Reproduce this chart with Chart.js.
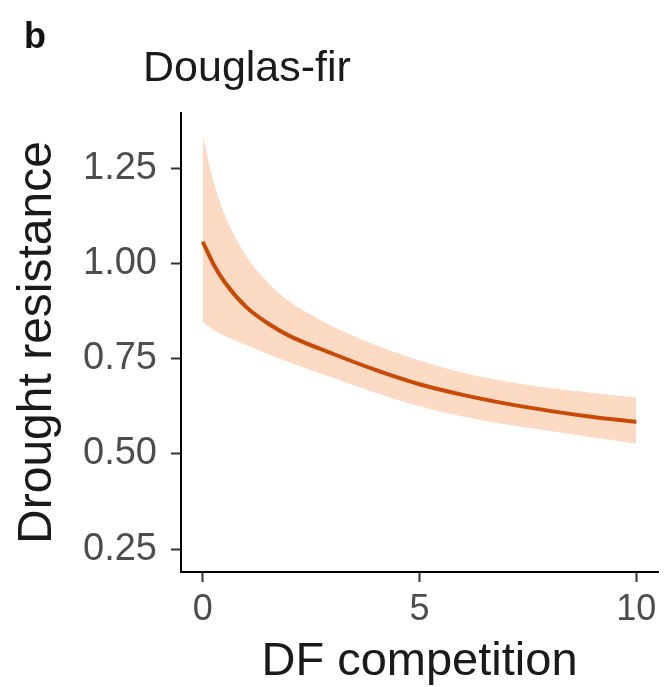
<!DOCTYPE html>
<html>
<head>
<meta charset="utf-8">
<script src="https://cdn.jsdelivr.net/npm/chart.js@4"></script>
<style>
  body { margin: 0; background: #fff; }
</style>
</head>
<body>
<canvas id="chart" width="665" height="687"></canvas>
<script>
// DF competition vs drought resistance (fitted line + confidence band)
const competition = [0, 0.25, 0.5, 1, 1.5, 2, 3, 4, 5, 6, 7, 8, 9, 10];
const fitted = [1.057, 0.998, 0.952, 0.886, 0.843, 0.81, 0.763, 0.72, 0.683, 0.655, 0.632, 0.613, 0.597, 0.584];
const upperBand = [1.336, 1.215, 1.13, 1.02, 0.95, 0.9, 0.835, 0.785, 0.745, 0.713, 0.69, 0.673, 0.66, 0.648];
const lowerBand = [0.845, 0.826, 0.81, 0.786, 0.762, 0.74, 0.7, 0.66, 0.625, 0.598, 0.577, 0.56, 0.543, 0.527];

const xTicks = [0, 5, 10];
const yTicks = [0.25, 0.5, 0.75, 1.0, 1.25];

const FONT = "'Liberation Sans', Arial, Helvetica, sans-serif";

const toPoints = (ys) => competition.map((x, i) => ({ x: x, y: ys[i] }));

// panel letter and title
const headerPlugin = {
  id: 'header',
  afterDraw(chart) {
    const ctx = chart.ctx;
    ctx.save();
    ctx.fillStyle = '#111';
    ctx.textBaseline = 'alphabetic';
    ctx.textAlign = 'left';
    ctx.font = 'bold 36px ' + FONT;
    ctx.fillText('b', 24, 48);
    ctx.fillStyle = '#1a1a1a';
    ctx.font = '43px ' + FONT;
    ctx.fillText('Douglas-fir', 143, 81);
    ctx.restore();
  }
};

const ctx = document.getElementById('chart').getContext('2d');

new Chart(ctx, {
  type: 'line',
  data: {
    datasets: [
      {
        label: 'upper',
        data: toPoints(upperBand),
        borderWidth: 0,
        pointRadius: 0,
        backgroundColor: '#FCDAC4',
        fill: '+1',
        cubicInterpolationMode: 'monotone',
        order: 2
      },
      {
        label: 'lower',
        data: toPoints(lowerBand),
        borderWidth: 0,
        pointRadius: 0,
        fill: false,
        cubicInterpolationMode: 'monotone',
        order: 2
      },
      {
        label: 'fit',
        data: toPoints(fitted),
        borderColor: '#C94A06',
        borderWidth: 4,
        pointRadius: 0,
        fill: false,
        cubicInterpolationMode: 'monotone',
        order: 1
      }
    ]
  },
  options: {
    responsive: false,
    animation: false,
    layout: {
      padding: { top: 113, right: 7, left: 0, bottom: 0 }
    },
    plugins: {
      legend: { display: false },
      tooltip: { enabled: false }
    },
    scales: {
      x: {
        type: 'linear',
        min: -0.5,
        max: 10.5,
        afterBuildTicks: (scale) => {
          scale.ticks = xTicks.map(v => ({ value: v }));
        },
        afterFit: (scale) => { scale.height = 115; },
        grid: {
          drawOnChartArea: false,
          drawTicks: true,
          tickLength: 10,
          tickColor: '#333',
          tickWidth: 2
        },
        border: { display: true, color: '#000', width: 2 },
        ticks: {
          color: '#4d4d4d',
          font: { family: FONT, size: 36 },
          padding: 6,
          maxRotation: 0
        },
        title: {
          display: true,
          text: 'DF competition',
          color: '#1a1a1a',
          font: { family: FONT, size: 47, lineHeight: 1.05 },
          padding: { top: 0, bottom: 0 }
        }
      },
      y: {
        min: 0.19,
        max: 1.395,
        afterBuildTicks: (scale) => {
          scale.ticks = yTicks.map(v => ({ value: v }));
        },
        afterFit: (scale) => { scale.width = 181; },
        grid: {
          drawOnChartArea: false,
          drawTicks: true,
          tickLength: 10,
          tickColor: '#333',
          tickWidth: 2
        },
        border: { display: true, color: '#000', width: 2 },
        ticks: {
          color: '#4d4d4d',
          font: { family: FONT, size: 38 },
          padding: 14,
          callback: (value) => value.toFixed(2)
        },
        title: {
          display: true,
          text: 'Drought resistance',
          color: '#1a1a1a',
          font: { family: FONT, size: 48, lineHeight: 1.2 },
          padding: { top: 9, bottom: 0 }
        }
      }
    }
  },
  plugins: [headerPlugin]
});
</script>
</body>
</html>
